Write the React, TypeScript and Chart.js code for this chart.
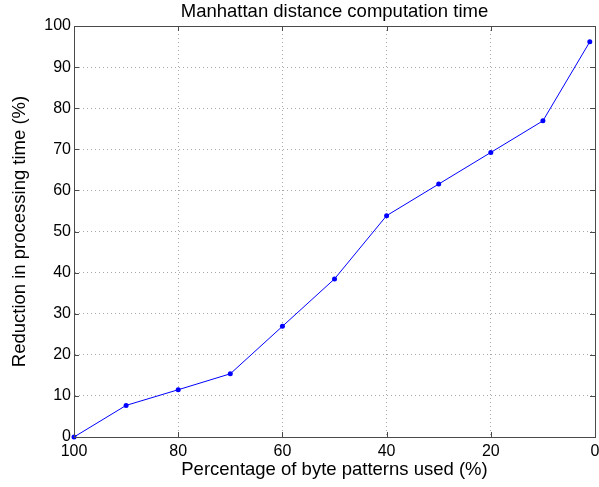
import React, { useEffect, useRef } from "react";
import { Chart, registerables } from "chart.js";

Chart.register(...registerables);

const titleText = "Manhattan distance computation time";
const xTitle = "Percentage of byte patterns used (%)";
const yTitle = "Reduction in processing time (%)";
const xValues = [100, 90, 80, 70, 60, 50, 40, 30, 20, 10, 1];
const yValues = [0, 7.69, 11.5, 15.38, 26.92, 38.46, 53.85, 61.54, 69.23, 76.92, 96.15];
const xTicks = [100, 80, 60, 40, 20, 0];
const yTicks = [0, 10, 20, 30, 40, 50, 60, 70, 80, 90, 100];

const FONT = "'Liberation Sans', Arial, Helvetica, sans-serif";

const framePlugin = {
  id: "frame",
  afterDatasetsDraw(chart: any) {
    const { ctx, chartArea } = chart;
    const { left, right, top, bottom } = chartArea;
    const xs = chart.scales.x;
    const ys = chart.scales.y;
    ctx.save();
    ctx.strokeStyle = "#4a4a4a";
    ctx.lineWidth = 1;
    ctx.beginPath();
    const tl = 5;
    xTicks.forEach((v) => {
      const px = Math.round(xs.getPixelForValue(v)) + 0.5;
      ctx.moveTo(px, bottom);
      ctx.lineTo(px, bottom - tl);
      ctx.moveTo(px, top);
      ctx.lineTo(px, top + tl);
    });
    yTicks.forEach((v) => {
      const py = Math.round(ys.getPixelForValue(v)) + 0.5;
      ctx.moveTo(left, py);
      ctx.lineTo(left + tl, py);
      ctx.moveTo(right, py);
      ctx.lineTo(right - tl, py);
    });
    ctx.stroke();
    ctx.strokeRect(Math.round(left) + 0.5, Math.round(top) + 0.5, Math.round(right - left), Math.round(bottom - top));
    ctx.fillStyle = "#000";
    ctx.font = `18.5px ${FONT}`;
    ctx.textAlign = "center";
    ctx.textBaseline = "middle";
    ctx.fillText(titleText, (left + right) / 2, 12);
    ctx.restore();
  },
};

export default function App() {
  const ref = useRef<HTMLCanvasElement>(null);
  useEffect(() => {
    document.body.style.margin = "0";
    const chart = new Chart(ref.current!, {
      type: "line",
      data: {
        datasets: [
          {
            data: xValues.map((x, i) => ({ x, y: yValues[i] })),
            borderColor: "#0000ff",
            backgroundColor: "#0000ff",
            borderWidth: 1,
            pointRadius: 2.5,
            pointBorderWidth: 0,
            pointBackgroundColor: "#0000ff",
            tension: 0,
            clip: false,
          },
        ],
      },
      options: {
        responsive: false,
        animation: false,
        layout: { padding: { left: 0, right: 3, top: 26, bottom: 0 } },
        plugins: { legend: { display: false }, tooltip: { enabled: false } },
        scales: {
          x: {
            type: "linear",
            reverse: true,
            min: 0,
            max: 100,
            afterBuildTicks: (s: any) => {
              s.ticks = xTicks.map((v) => ({ value: v }));
            },
            afterFit: (s: any) => {
              s.height = 50;
              s.paddingLeft = 0;
              s.paddingRight = 0;
            },
            ticks: { color: "#000", font: { family: FONT, size: 16 }, padding: 5, maxRotation: 0, autoSkip: false },
            grid: { color: "#a8a8a8", drawTicks: false, lineWidth: 1 },
            border: { color: "#4a4a4a", dash: [1, 3] },
            title: { display: true, text: xTitle, color: "#000", font: { family: FONT, size: 18.5 }, padding: { top: 4, bottom: 6 } },
          },
          y: {
            type: "linear",
            min: 0,
            max: 100,
            afterBuildTicks: (s: any) => {
              s.ticks = yTicks.map((v) => ({ value: v }));
            },
            afterFit: (s: any) => {
              s.width = 74;
              s.paddingTop = 0;
              s.paddingBottom = 0;
            },
            ticks: { color: "#000", font: { family: FONT, size: 16 }, padding: 3, autoSkip: false },
            grid: { color: "#a8a8a8", drawTicks: false, lineWidth: 1 },
            border: { color: "#4a4a4a", dash: [1, 3] },
            title: { display: true, text: yTitle, color: "#000", font: { family: FONT, size: 18.5 }, padding: { top: 9, bottom: 4 } },
          },
        },
      },
      plugins: [framePlugin],
    });
    return () => chart.destroy();
  }, []);
  return (
    <div style={{ position: "absolute", left: 0, top: 0, width: 599, height: 487, background: "#fff" }}>
      <canvas ref={ref} width={599} height={487} />
    </div>
  );
}
